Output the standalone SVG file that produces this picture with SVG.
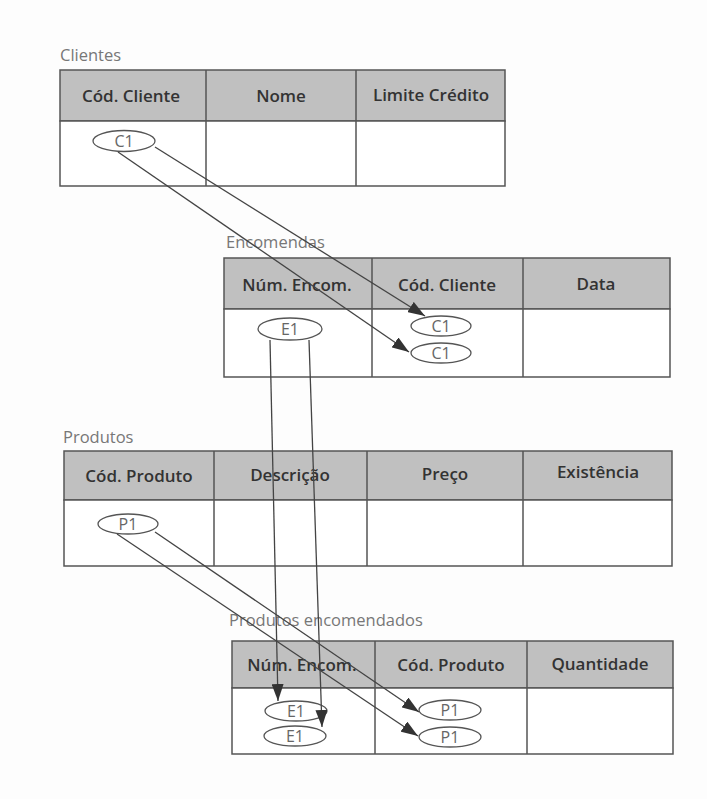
<svg xmlns="http://www.w3.org/2000/svg" width="707" height="799" viewBox="0 0 707 799">
  <style>
    .bg { fill: #fdfdfd; }
    .cell { fill: #ffffff; stroke: #555; stroke-width: 1.5; }
    .hdr { fill: #c0c0c0; stroke: #555; stroke-width: 1.5; }
    .div { stroke: #555; stroke-width: 1.5; }
    .htxt { font-family: "Open Sans", "Liberation Sans", sans-serif; font-weight: 600; font-size: 17px; fill: #333; text-anchor: middle; }
    .lbl { font-family: "Open Sans", "Liberation Sans", sans-serif; font-size: 16.5px; fill: #777; }
    .ell { fill: #ffffff; stroke: #555; stroke-width: 1.3; }
    .etxt { font-family: "Open Sans", "Liberation Sans", sans-serif; font-size: 16px; fill: #666; text-anchor: middle; }
    .conn { stroke: #444; stroke-width: 1.3; fill: none; }
  </style>
  <defs>
    <marker id="arr" markerUnits="userSpaceOnUse" markerWidth="18" markerHeight="12" refX="17" refY="6" orient="auto">
      <path d="M0,0 L17,6 L0,12 Z" fill="#333"/>
    </marker>
  </defs>
  <rect class="bg" x="0" y="0" width="707" height="799"/>

  <g id="clientes">
    <text class="lbl" x="60" y="61">Clientes</text>
    <rect class="hdr" x="60" y="70" width="445" height="51"/>
    <rect class="cell" x="60" y="121" width="445" height="65"/>
    <line class="div" x1="206" y1="70" x2="206" y2="186"/>
    <line class="div" x1="356" y1="70" x2="356" y2="186"/>
    <text class="htxt" x="131" y="102">Cód. Cliente</text>
    <text class="htxt" x="281" y="102">Nome</text>
    <text class="htxt" x="431" y="101">Limite Crédito</text>
    <g id="clientes-c1">
      <ellipse class="ell" cx="124" cy="141" rx="31" ry="10.5"/>
      <text class="etxt" x="124" y="147">C1</text>
    </g>
  </g>

  <g id="encomendas">
    <text class="lbl" x="226" y="248">Encomendas</text>
    <rect class="hdr" x="224" y="258" width="446" height="51"/>
    <rect class="cell" x="224" y="309" width="446" height="68"/>
    <line class="div" x1="372" y1="258" x2="372" y2="377"/>
    <line class="div" x1="523" y1="258" x2="523" y2="377"/>
    <text class="htxt" x="297" y="291">Núm. Encom.</text>
    <text class="htxt" x="447" y="291">Cód. Cliente</text>
    <text class="htxt" x="596" y="290">Data</text>
    <g id="encomendas-e1">
      <ellipse class="ell" cx="290" cy="329" rx="32" ry="11"/>
      <text class="etxt" x="290" y="335">E1</text>
    </g>
    <g id="encomendas-c1a">
      <ellipse class="ell" cx="441" cy="326" rx="30" ry="10"/>
      <text class="etxt" x="441" y="332">C1</text>
    </g>
    <g id="encomendas-c1b">
      <ellipse class="ell" cx="441" cy="353" rx="30" ry="10"/>
      <text class="etxt" x="441" y="359">C1</text>
    </g>
  </g>

  <g id="produtos">
    <text class="lbl" x="63" y="443">Produtos</text>
    <rect class="hdr" x="64" y="451" width="608" height="49"/>
    <rect class="cell" x="64" y="500" width="608" height="66"/>
    <line class="div" x1="214" y1="451" x2="214" y2="566"/>
    <line class="div" x1="367" y1="451" x2="367" y2="566"/>
    <line class="div" x1="523" y1="451" x2="523" y2="566"/>
    <text class="htxt" x="139" y="482">Cód. Produto</text>
    <text class="htxt" x="290" y="481">Descrição</text>
    <text class="htxt" x="445" y="480">Preço</text>
    <text class="htxt" x="598" y="478">Existência</text>
    <g id="produtos-p1">
      <ellipse class="ell" cx="128" cy="524" rx="30" ry="10"/>
      <text class="etxt" x="128" y="530">P1</text>
    </g>
  </g>

  <g id="produtos-encomendados">
    <text class="lbl" x="229" y="626">Produtos encomendados</text>
    <rect class="hdr" x="232" y="641" width="441" height="47"/>
    <rect class="cell" x="232" y="688" width="441" height="66"/>
    <line class="div" x1="375" y1="641" x2="375" y2="754"/>
    <line class="div" x1="527" y1="641" x2="527" y2="754"/>
    <text class="htxt" x="302" y="671">Núm. Encom.</text>
    <text class="htxt" x="451" y="671">Cód. Produto</text>
    <text class="htxt" x="600" y="670">Quantidade</text>
    <g id="pe-e1a">
      <ellipse class="ell" cx="296" cy="711" rx="31" ry="10"/>
      <text class="etxt" x="296" y="717">E1</text>
    </g>
    <g id="pe-e1b">
      <ellipse class="ell" cx="295" cy="736" rx="31" ry="10"/>
      <text class="etxt" x="295" y="742">E1</text>
    </g>
    <g id="pe-p1a">
      <ellipse class="ell" cx="450" cy="710" rx="31" ry="10"/>
      <text class="etxt" x="450" y="716">P1</text>
    </g>
    <g id="pe-p1b">
      <ellipse class="ell" cx="450" cy="737" rx="31" ry="10"/>
      <text class="etxt" x="450" y="743">P1</text>
    </g>
  </g>

  <g id="connectors">
    <line class="conn" x1="155" y1="147" x2="425" y2="316" marker-end="url(#arr)"/>
    <line class="conn" x1="118" y1="152" x2="409" y2="352" marker-end="url(#arr)"/>
    <line class="conn" x1="270" y1="340" x2="278" y2="701" marker-end="url(#arr)"/>
    <line class="conn" x1="309" y1="340" x2="322" y2="727" marker-end="url(#arr)"/>
    <line class="conn" x1="155" y1="532" x2="419" y2="712" marker-end="url(#arr)"/>
    <line class="conn" x1="117" y1="534" x2="418" y2="736" marker-end="url(#arr)"/>
  </g>
</svg>
